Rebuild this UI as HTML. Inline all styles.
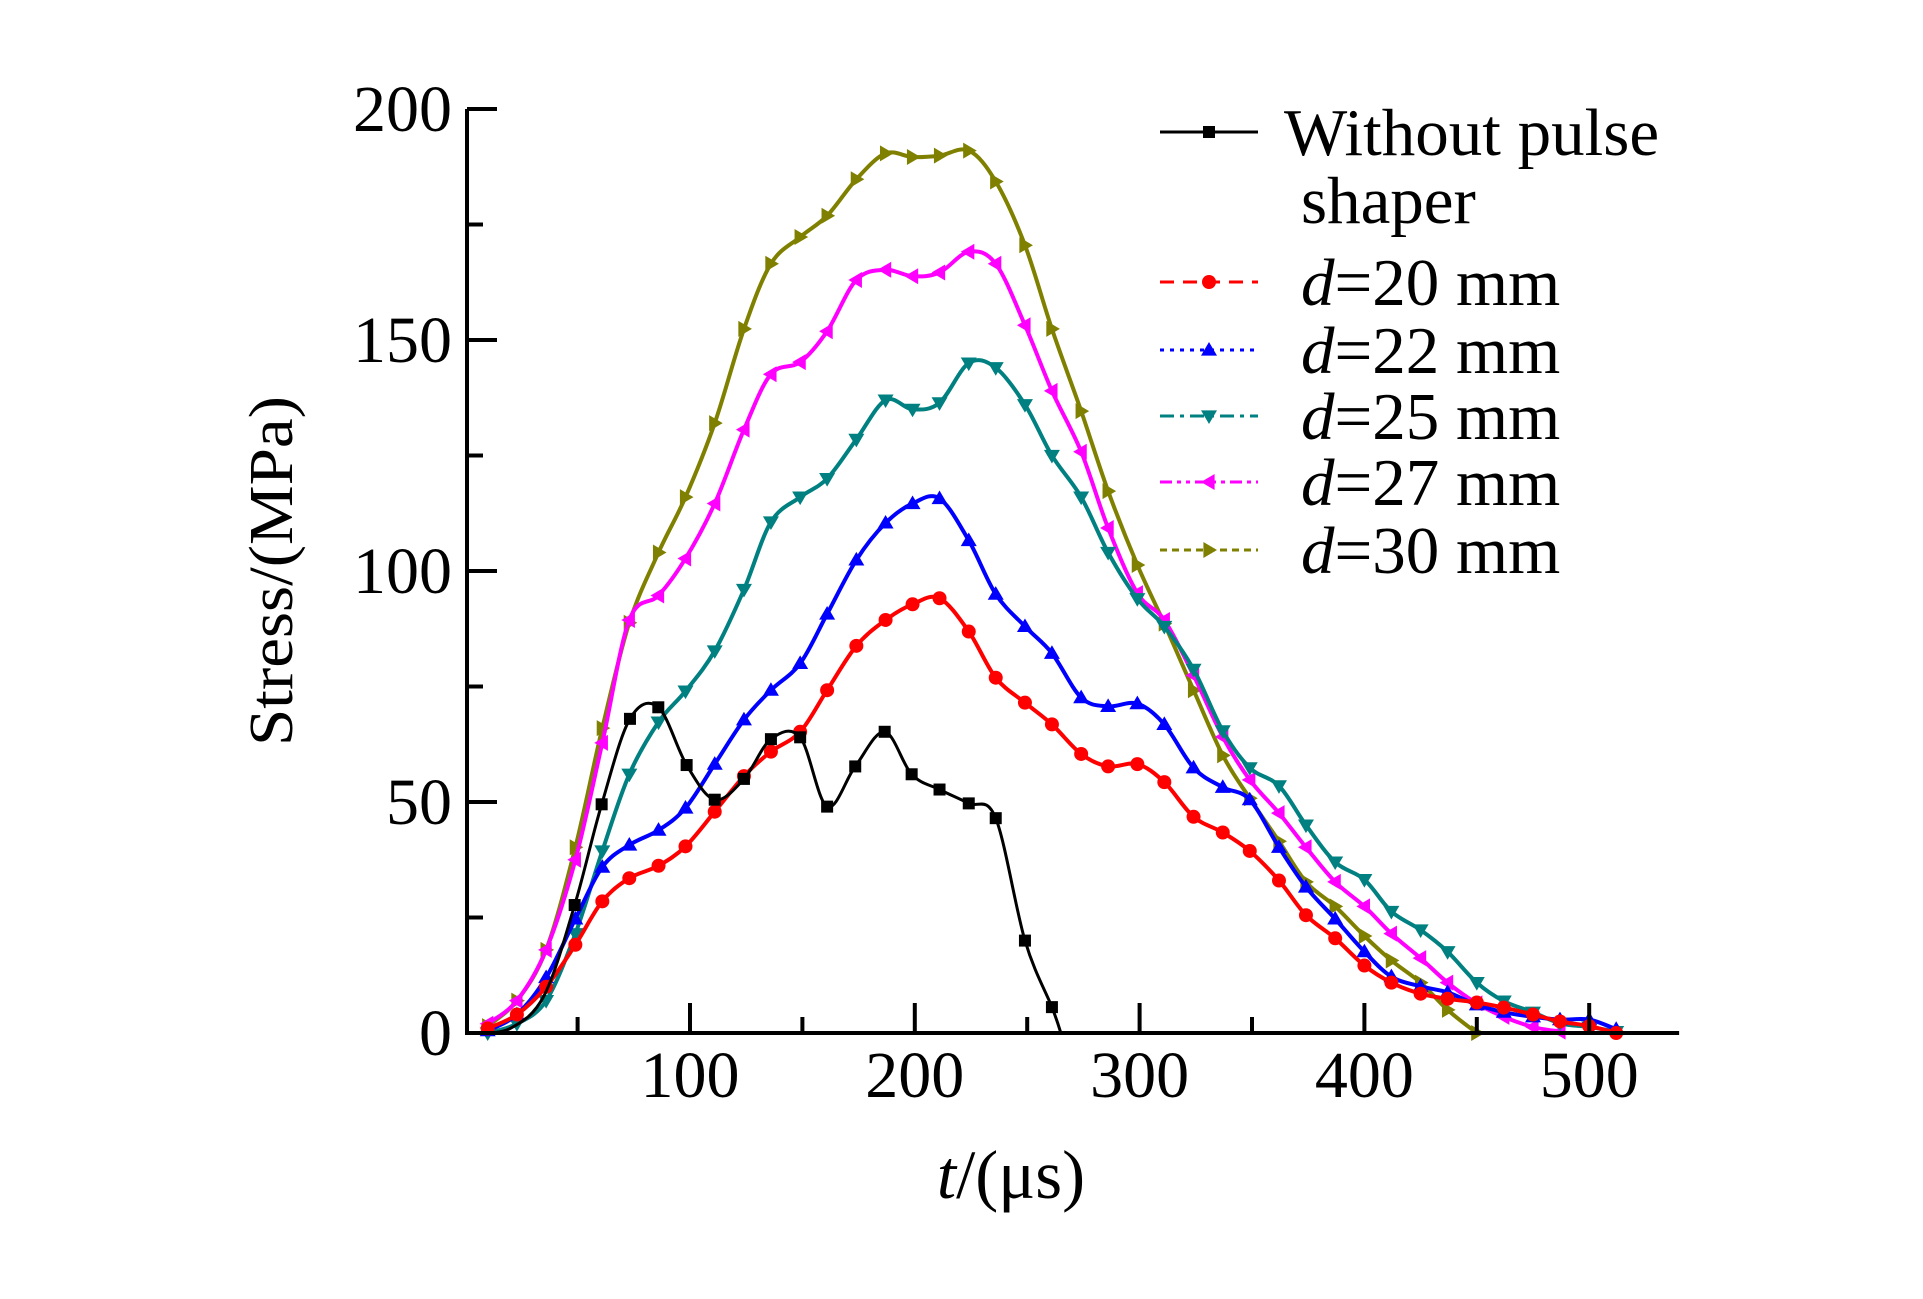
<!DOCTYPE html>
<html><head><meta charset="utf-8"><style>
html,body{margin:0;padding:0;background:#fff;}
svg{display:block;font-family:"Liberation Serif",serif;}
</style></head><body>
<svg id="chart" width="1923" height="1299" viewBox="0 0 1923 1299" xmlns="http://www.w3.org/2000/svg">
<rect width="1923" height="1299" fill="#fff"/>
<g id="plot"></g>
<g id="axes"></g>
<text x="0" y="0" font-size="62" textLength="350" lengthAdjust="spacingAndGlyphs" text-anchor="middle" transform="translate(292,571) rotate(-90)">Stress/(MPa)</text>
<text x="1011" y="1198" font-size="69" text-anchor="middle"><tspan font-style="italic">t</tspan>/(μs)</text>
<g id="legend"></g>
</svg>
<script>
const tGrid=[10,23,36,49,61,73,86,98,111,124,136,149,161,174,187,199,211,224,236,249,261,274,286,299,311,324,337,349,362,374,387,400,412,425,437,450,462,475,487,500,512];
const blackT=[5,20,35,48.7,60.7,73.3,85.9,98.5,111,124,136,149,161,173.5,186.6,198.6,211,224,236,249,261,265];
const blackV=[0,1,8,27.7,49.5,68,70.5,58,50.5,55,63.6,64,49,57.7,65.2,56,52.7,49.7,46.5,20,5.6,0];
const d20=[1,4,10,19.1,28.5,33.5,36.2,40.4,47.9,55.6,60.9,65.2,74.2,83.8,89.4,92.8,94.1,86.9,76.9,71.5,66.8,60.4,57.7,58.2,54.3,46.8,43.4,39.4,33,25.5,20.5,14.6,10.9,8.5,7.4,6.6,5.5,4,2.5,1.5,0];
const d22=[0.5,4,12,24.7,35.9,40.7,43.9,48.7,58.2,67.8,74.2,80,90.7,102.4,110.4,114.6,115.7,106.6,95,88,82.2,72.6,70.7,71.3,66.8,57.4,53.2,50.5,40.2,31.6,24.7,17.6,12.2,10.1,8.8,6.1,4.5,3.5,2.9,2.9,0.8];
const d25=[0,2,7,21.5,39.4,56,67.3,74,82.7,96,110.6,116,120,128.5,137,135,136.4,145,144,136,125,116,104,94,88,78.7,65.4,57.4,53.5,45,37,33.2,26.3,22.3,17.6,10.9,6.9,4.5,2.1,1.3,0.3];
const d27=[2,7,18,37.5,62.8,89.4,94.7,102.7,114.6,130.6,142.6,145.2,151.9,163,165.2,163.8,164.6,169.1,166.5,153.2,139,125.8,109.3,95.2,89.4,77.4,64.1,54.8,47.6,40.2,32.7,27.4,21.5,16.2,10.9,6.4,3.5,1.3,0.3];
const d30=[1.5,7,18,40.2,66,88.8,104,116,132,152.4,166.5,172.3,176.9,184.8,190.4,189.6,189.9,191,184.3,170.5,152.4,134.6,117.3,101.3,88.6,74.2,60.1,50.8,41.5,32.7,27.4,21,15.7,10.9,5,0];
const xTicks=[100,200,300,400,500];
const yTicks=[0,50,100,150,200];
const legendLabels=["Without pulse","d=20 mm","d=22 mm","d=25 mm","d=27 mm","d=30 mm"];

const NS="http://www.w3.org/2000/svg";
const X0=465.2,PX=2.248,Y0=1033,PY=4.62,AX=467;
function xS(t){return X0+t*PX;}
function yS(v){return Y0-v*PY;}
function mk(tag,attrs,parent){const e=document.createElementNS(NS,tag);for(const k in attrs)e.setAttribute(k,attrs[k]);parent.appendChild(e);return e;}
function smoothPath(pts){
  let d="M"+pts[0][0].toFixed(1)+","+pts[0][1].toFixed(1);
  for(let i=0;i<pts.length-1;i++){
    const p0=pts[Math.max(0,i-1)],p1=pts[i],p2=pts[i+1],p3=pts[Math.min(pts.length-1,i+2)];
    const c1=[p1[0]+(p2[0]-p0[0])/6,p1[1]+(p2[1]-p0[1])/6];
    const c2=[p2[0]-(p3[0]-p1[0])/6,p2[1]-(p3[1]-p1[1])/6];
    d+=" C"+c1[0].toFixed(1)+","+c1[1].toFixed(1)+" "+c2[0].toFixed(1)+","+c2[1].toFixed(1)+" "+p2[0].toFixed(1)+","+p2[1].toFixed(1);
  }
  return d;
}
function marker(type,x,y,color,parent){
  const s=8;let e;
  if(type==="square") e=mk("rect",{x:x-6,y:y-6,width:12,height:12,fill:color},parent);
  else if(type==="circle") e=mk("circle",{cx:x,cy:y,r:7,fill:color},parent);
  else{
    let p;
    if(type==="up") p=[[x,y-s],[x-s,y+s*0.7],[x+s,y+s*0.7]];
    else if(type==="down") p=[[x,y+s],[x-s,y-s*0.7],[x+s,y-s*0.7]];
    else if(type==="left") p=[[x-s,y],[x+s*0.7,y-s],[x+s*0.7,y+s]];
    else p=[[x+s,y],[x-s*0.7,y-s],[x-s*0.7,y+s]];
    e=mk("polygon",{points:p.map(q=>q.join(",")).join(" "),fill:color},parent);
  }
  return e;
}
const plot=document.getElementById("plot");
const series=[
 {name:"series-d30",t:tGrid,v:d30,color:"#808000",m:"right"},
 {name:"series-d27",t:tGrid,v:d27,color:"#ff00ff",m:"left"},
 {name:"series-d25",t:tGrid,v:d25,color:"#008080",m:"down"},
 {name:"series-d22",t:tGrid,v:d22,color:"#0000ff",m:"up"},
 {name:"series-d20",t:tGrid,v:d20,color:"#ff0000",m:"circle"},
 {name:"series-without-shaper",t:blackT,v:blackV,color:"#000000",m:"square"}
];
series.forEach(s=>{
  const g=mk("g",{},plot);
  
  
  const pts=s.v.map((v,i)=>[xS(s.t[i]),yS(v)]);
  const path=mk("path",{d:smoothPath(pts),fill:"none",stroke:s.color,"stroke-width":s.m==="square"?3:4,"stroke-linejoin":"round"},g);
  
  
  s.v.forEach((v,i)=>{
    if(s.m==="square" && (s.t[i]<45 || i===s.v.length-1)) return;
    const e=marker(s.m,xS(s.t[i]),yS(v),s.color,g);
    
    
  });
});
const ax=document.getElementById("axes");
const axisPath=mk("path",{d:"M"+AX+","+yS(200)+" L"+AX+","+Y0+" L"+xS(540)+","+Y0,fill:"none",stroke:"#000","stroke-width":4},ax);


for(let v=0;v<=200;v+=25){
  const len=(v%50===0)?30:16;
  const l=mk("line",{x1:AX,y1:yS(v),x2:AX+len,y2:yS(v),stroke:"#000","stroke-width":4},ax);
  
  
}
for(let t=50;t<=500;t+=50){
  const len=(t%100===0)?30:16;
  const l=mk("line",{x1:xS(t),y1:Y0,x2:xS(t),y2:Y0-len,stroke:"#000","stroke-width":4},ax);
  
  
}
yTicks.forEach(v=>{
  const tx=mk("text",{x:452,y:yS(v)+22,"font-size":66,"text-anchor":"end"},ax);
  tx.textContent=v;
  
  
});
xTicks.forEach(t=>{
  const tx=mk("text",{x:xS(t),y:1097,"font-size":66,"text-anchor":"middle"},ax);
  tx.textContent=t;
  
  
});
const lg=document.getElementById("legend");
const legRows=[
 {y:132,color:"#000",m:"square",dash:""},
 {y:282,color:"#ff0000",m:"circle",dash:"14 9"},
 {y:350,color:"#0000ff",m:"up",dash:"4 6"},
 {y:416,color:"#008080",m:"down",dash:"14 6 4 6"},
 {y:482,color:"#ff00ff",m:"left",dash:"12 5 4 5 4 5"},
 {y:550,color:"#808000",m:"right",dash:"7 5"}
];
legRows.forEach((r,i)=>{
  const g=mk("g",{},lg);
  
  
  const a={x1:1160,y1:r.y,x2:1258,y2:r.y,stroke:r.color,"stroke-width":3};
  if(r.dash)a["stroke-dasharray"]=r.dash;
  mk("line",a,g);
  marker(r.m,1209,r.y,r.color,g);
  const tx=mk("text",{x:i===0?1284:1301,y:r.y+23,"font-size":67},g);
  const lab=legendLabels[i];
  if(lab.startsWith("d=")){
    const it=mk("tspan",{"font-style":"italic"},tx);it.textContent="d";
    const rest=mk("tspan",{},tx);rest.textContent=lab.slice(1);
  } else tx.textContent=lab;
});
const sh=mk("text",{x:1301,y:223,"font-size":67},lg);
sh.textContent="shaper";


</script>
</body></html>
